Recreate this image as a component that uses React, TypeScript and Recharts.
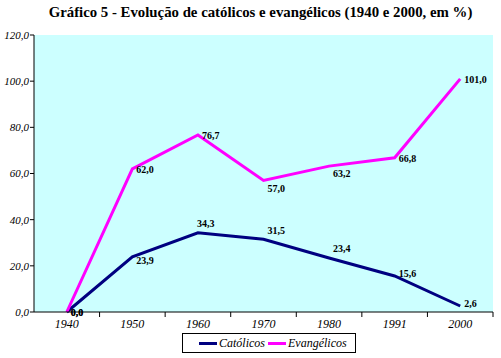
import { LineChart, Line, XAxis, YAxis, CartesianGrid, Legend, LabelList } from "recharts";

const years = ["1940", "1950", "1960", "1970", "1980", "1991", "2000"];
const catolicos = [0.0, 23.9, 34.3, 31.5, 23.4, 15.6, 2.6];
const evangelicos = [0.0, 62.0, 76.7, 57.0, 63.2, 66.8, 101.0];
const yTicks = [0, 20, 40, 60, 80, 100, 120];

const data = years.map((year, i) => ({
  year,
  catolicos: catolicos[i],
  evangelicos: evangelicos[i],
}));

const NAVY = "#000080";
const PINK = "#ff00ff";
const SERIF = "'Liberation Serif', 'Times New Roman', serif";

const PLOT_LEFT = 34;
const PLOT_RIGHT = 493;
const BAND = (PLOT_RIGHT - PLOT_LEFT) / years.length;

const fmt = (v: number) => v.toFixed(1).replace(".", ",");

function XTick(props: any) {
  const { x, y, payload } = props;
  return (
    <g>
      <line x1={x + BAND / 2} x2={x + BAND / 2} y1={y} y2={y + 5} stroke="#000" />
      <text
        x={x}
        y={y + 16}
        textAnchor="middle"
        fontFamily={SERIF}
        fontStyle="italic"
        fontSize={12}
        fill="#000"
      >
        {payload.value}
      </text>
    </g>
  );
}

function makeLabel(series: "cat" | "evan") {
  return (props: any) => {
    const { x, y, value, index } = props;
    let dx = 4;
    let dy = 4;
    if (series === "cat") {
      dy = index === 1 ? 5 : index >= 5 ? -1 : -8;
      if (index === 0) dy = 2;
      if (index === 2) dx = -1;
    } else {
      dy = index === 3 || index === 4 ? 9 : 2;
      if (index === 0) dy = 2;
    }
    return (
      <text
        x={x + dx}
        y={y + dy}
        fontFamily={SERIF}
        fontWeight="bold"
        fontSize={10}
        fill="#000"
        dominantBaseline="middle"
      >
        {fmt(value)}
      </text>
    );
  };
}

function LegendBox() {
  const item = (color: string, label: string) => (
    <span style={{ display: "inline-flex", alignItems: "center", marginRight: 3 }}>
      <span style={{ display: "inline-block", width: 18, height: 3, background: color, marginRight: 2 }} />
      <span>{label}</span>
    </span>
  );
  return (
    <div
      style={{
        border: "1px solid #000",
        width: 174,
        height: 20,
        boxSizing: "border-box",
        fontFamily: SERIF,
        fontStyle: "italic",
        fontSize: 12,
        display: "flex",
        alignItems: "center",
        paddingLeft: 16,
        background: "#fff",
      }}
    >
      {item(NAVY, "Católicos")}
      {item(PINK, "Evangélicos")}
    </div>
  );
}

export default function App() {
  return (
    <div style={{ position: "absolute", left: 0, top: 0, width: 501, height: 358, background: "#fff" }}>
      <div
        style={{
          position: "absolute",
          top: 4,
          left: 10,
          width: 501,
          textAlign: "center",
          fontFamily: SERIF,
          fontWeight: "bold",
          fontSize: 14.8,
          color: "#000",
        }}
      >
        Gráfico 5 - Evolução de católicos e evangélicos (1940 e 2000, em %)
      </div>
      <LineChart
        width={501}
        height={358}
        data={data}
        margin={{ top: 35, right: 501 - PLOT_RIGHT, left: 0, bottom: 0 }}
      >
        <CartesianGrid fill="#ccffff" stroke="none" horizontal={false} vertical={false} />
        <XAxis
          dataKey="year"
          interval={0}
          height={20}
          padding={{ left: BAND / 2, right: BAND / 2 }}
          tickLine={false}
          tickSize={0}
          tickMargin={0}
          axisLine={{ stroke: "#000" }}
          tick={<XTick />}
        />
        <YAxis
          width={PLOT_LEFT}
          domain={[0, 120]}
          ticks={yTicks}
          tickFormatter={fmt}
          tickSize={4}
          tickMargin={1}
          axisLine={{ stroke: "#000" }}
          tickLine={{ stroke: "#000" }}
          tick={{ fontFamily: SERIF, fontStyle: "italic", fontSize: 11, fill: "#000" }}
        />
        <Legend
          verticalAlign="bottom"
          height={26}
          wrapperStyle={{ left: 182, top: 333, bottom: "auto", width: "auto" }}
          content={() => <LegendBox />}
        />
        <Line
          type="linear"
          dataKey="catolicos"
          name="Católicos"
          stroke={NAVY}
          strokeWidth={3}
          dot={false}
          isAnimationActive={false}
        >
          <LabelList dataKey="catolicos" content={makeLabel("cat")} />
        </Line>
        <Line
          type="linear"
          dataKey="evangelicos"
          name="Evangélicos"
          stroke={PINK}
          strokeWidth={3}
          dot={false}
          isAnimationActive={false}
        >
          <LabelList dataKey="evangelicos" content={makeLabel("evan")} />
        </Line>
      </LineChart>
    </div>
  );
}
